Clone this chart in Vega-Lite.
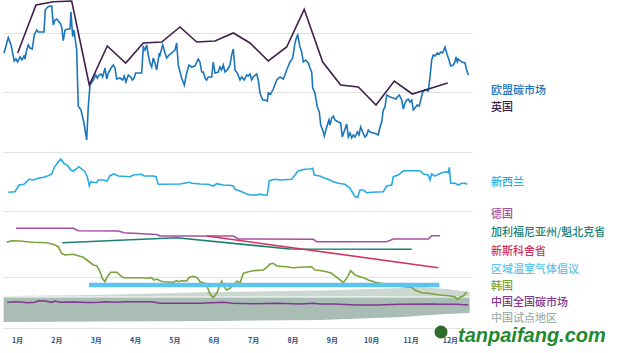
{
"$schema":"https://vega.github.io/schema/vega-lite/v6.json",
"width":469,"height":330,
"autosize":{"type":"none"},
"padding":{"left":3,"top":0,"right":156,"bottom":23},
"background":"white",
"config":{"view":{"stroke":null},"font":"Noto Sans CJK SC"},
"datasets":{
"band":[
{"m":0.66,"lo":8,"mid":33,"hi":34},
{"m":3.0,"lo":8.5,"mid":33,"hi":35},
{"m":6.0,"lo":9,"mid":33,"hi":38},
{"m":8.7,"lo":10,"mid":33,"hi":39.5},
{"m":10.8,"lo":13,"mid":33,"hi":42},
{"m":11.3,"lo":14.5,"mid":33,"hi":43},
{"m":11.9,"lo":16,"mid":33,"hi":41},
{"m":12.5,"lo":17,"mid":33,"hi":38}
],
"labels":[
{"s":"欧盟碳市场","m":13.04,"v":239},
{"s":"英国","m":13.04,"v":222},
{"s":"新西兰","m":13.04,"v":147.5},
{"s":"德国","m":13.04,"v":115.5},
{"s":"加利福尼亚州/魁北克省","m":13.04,"v":97},
{"s":"新斯科舍省","m":13.04,"v":78},
{"s":"区域温室气体倡议","m":13.04,"v":60},
{"s":"韩国","m":13.04,"v":43.5},
{"s":"中国全国碳市场","m":13.04,"v":27},
{"s":"中国试点地区","m":13.04,"v":11}
],
"lines":[
{"s":"欧盟碳市场","m":0.670,"v":277},{"s":"欧盟碳市场","m":0.779,"v":292.3},{"s":"欧盟碳市场","m":0.848,"v":285},{"s":"欧盟碳市场","m":0.931,"v":269},{"s":"欧盟碳市场","m":0.975,"v":271},{"s":"欧盟碳市场","m":1.018,"v":268},{"s":"欧盟碳市场","m":1.076,"v":273},{"s":"欧盟碳市场","m":1.127,"v":270},{"s":"欧盟碳市场","m":1.178,"v":274},{"s":"欧盟碳市场","m":1.203,"v":271},{"s":"欧盟碳市场","m":1.246,"v":280},{"s":"欧盟碳市场","m":1.287,"v":285},{"s":"欧盟碳市场","m":1.330,"v":282},{"s":"欧盟碳市场","m":1.389,"v":281},{"s":"欧盟碳市场","m":1.440,"v":295},{"s":"欧盟碳市场","m":1.501,"v":300},{"s":"欧盟碳市场","m":1.541,"v":298},{"s":"欧盟碳市场","m":1.628,"v":298},{"s":"欧盟碳市场","m":1.686,"v":298},{"s":"欧盟碳市场","m":1.719,"v":320},{"s":"欧盟碳市场","m":1.770,"v":322.7},{"s":"欧盟碳市场","m":1.838,"v":324},{"s":"欧盟碳市场","m":1.882,"v":324},{"s":"欧盟碳市场","m":1.922,"v":305},{"s":"欧盟碳市场","m":1.965,"v":310},{"s":"欧盟碳市场","m":2.009,"v":311},{"s":"欧盟碳市场","m":2.093,"v":307},{"s":"欧盟碳市场","m":2.136,"v":303},{"s":"欧盟碳市场","m":2.176,"v":289.3},{"s":"欧盟碳市场","m":2.220,"v":300},{"s":"欧盟碳市场","m":2.303,"v":301},{"s":"欧盟碳市场","m":2.347,"v":301},{"s":"欧盟碳市场","m":2.372,"v":318.3},{"s":"欧盟碳市场","m":2.415,"v":293.3},{"s":"欧盟碳市场","m":2.448,"v":300},{"s":"欧盟碳市场","m":2.517,"v":280},{"s":"欧盟碳市场","m":2.557,"v":224},{"s":"欧盟碳市场","m":2.626,"v":220},{"s":"欧盟碳市场","m":2.702,"v":207},{"s":"欧盟碳市场","m":2.771,"v":190},{"s":"欧盟碳市场","m":2.811,"v":223},{"s":"欧盟碳市场","m":2.855,"v":245},{"s":"欧盟碳市场","m":2.939,"v":250},{"s":"欧盟碳市场","m":2.999,"v":255},{"s":"欧盟碳市场","m":3.040,"v":252},{"s":"欧盟碳市场","m":3.083,"v":255},{"s":"欧盟碳市场","m":3.134,"v":256},{"s":"欧盟碳市场","m":3.177,"v":253},{"s":"欧盟碳市场","m":3.236,"v":262},{"s":"欧盟碳市场","m":3.279,"v":251},{"s":"欧盟碳市场","m":3.320,"v":257},{"s":"欧盟碳市场","m":3.363,"v":260},{"s":"欧盟碳市场","m":3.406,"v":263},{"s":"欧盟碳市场","m":3.447,"v":265},{"s":"欧盟碳市场","m":3.490,"v":262},{"s":"欧盟碳市场","m":3.533,"v":251},{"s":"欧盟碳市场","m":3.617,"v":252},{"s":"欧盟碳市场","m":3.686,"v":250},{"s":"欧盟碳市场","m":3.726,"v":254},{"s":"欧盟碳市场","m":3.769,"v":248},{"s":"欧盟碳市场","m":3.828,"v":255},{"s":"欧盟碳市场","m":3.889,"v":253},{"s":"欧盟碳市场","m":3.929,"v":250},{"s":"欧盟碳市场","m":3.973,"v":252},{"s":"欧盟碳市场","m":4.016,"v":257},{"s":"欧盟碳市场","m":4.082,"v":257},{"s":"欧盟碳市场","m":4.168,"v":257},{"s":"欧盟碳市场","m":4.209,"v":283},{"s":"欧盟碳市场","m":4.252,"v":280},{"s":"欧盟碳市场","m":4.295,"v":285},{"s":"欧盟碳市场","m":4.336,"v":275},{"s":"欧盟碳市场","m":4.379,"v":267},{"s":"欧盟碳市场","m":4.422,"v":263},{"s":"欧盟碳市场","m":4.463,"v":272},{"s":"欧盟碳市场","m":4.506,"v":267},{"s":"欧盟碳市场","m":4.549,"v":260},{"s":"欧盟碳市场","m":4.615,"v":277},{"s":"欧盟碳市场","m":4.633,"v":275},{"s":"欧盟碳市场","m":4.702,"v":285},{"s":"欧盟碳市场","m":4.760,"v":277},{"s":"欧盟碳市场","m":4.803,"v":272},{"s":"欧盟碳市场","m":4.862,"v":275},{"s":"欧盟碳市场","m":4.930,"v":277},{"s":"欧盟碳市场","m":5.014,"v":280},{"s":"欧盟碳市场","m":5.057,"v":287},{"s":"欧盟碳市场","m":5.098,"v":265},{"s":"欧盟碳市场","m":5.184,"v":252},{"s":"欧盟碳市场","m":5.251,"v":245},{"s":"欧盟碳市场","m":5.312,"v":257},{"s":"欧盟碳市场","m":5.370,"v":265},{"s":"欧盟碳市场","m":5.439,"v":263},{"s":"欧盟碳市场","m":5.522,"v":264},{"s":"欧盟碳市场","m":5.606,"v":271},{"s":"欧盟碳市场","m":5.649,"v":268},{"s":"欧盟碳市场","m":5.693,"v":258},{"s":"欧盟碳市场","m":5.733,"v":258},{"s":"欧盟碳市场","m":5.777,"v":252},{"s":"欧盟碳市场","m":5.820,"v":250},{"s":"欧盟碳市场","m":5.860,"v":253},{"s":"欧盟碳市场","m":5.947,"v":253},{"s":"欧盟碳市场","m":5.987,"v":268},{"s":"欧盟碳市场","m":6.031,"v":257},{"s":"欧盟碳市场","m":6.114,"v":258},{"s":"欧盟碳市场","m":6.158,"v":263},{"s":"欧盟碳市场","m":6.201,"v":260},{"s":"欧盟碳市场","m":6.241,"v":265},{"s":"欧盟碳市场","m":6.285,"v":258},{"s":"欧盟碳市场","m":6.343,"v":260},{"s":"欧盟碳市场","m":6.412,"v":265},{"s":"欧盟碳市场","m":6.455,"v":275},{"s":"欧盟碳市场","m":6.496,"v":281},{"s":"欧盟碳市场","m":6.539,"v":260},{"s":"欧盟碳市场","m":6.597,"v":257},{"s":"欧盟碳市场","m":6.666,"v":250},{"s":"欧盟碳市场","m":6.709,"v":253},{"s":"欧盟碳市场","m":6.775,"v":250},{"s":"欧盟碳市场","m":6.836,"v":255},{"s":"欧盟碳市场","m":6.877,"v":254},{"s":"欧盟碳市场","m":6.920,"v":256},{"s":"欧盟碳市场","m":6.963,"v":250},{"s":"欧盟碳市场","m":7.004,"v":253},{"s":"欧盟碳市场","m":7.090,"v":256},{"s":"欧盟碳市场","m":7.131,"v":250},{"s":"欧盟碳市场","m":7.174,"v":237},{"s":"欧盟碳市场","m":7.242,"v":230},{"s":"欧盟碳市场","m":7.301,"v":230},{"s":"欧盟碳市场","m":7.359,"v":229},{"s":"欧盟碳市场","m":7.385,"v":237},{"s":"欧盟碳市场","m":7.446,"v":236},{"s":"欧盟碳市场","m":7.512,"v":241},{"s":"欧盟碳市场","m":7.598,"v":250},{"s":"欧盟碳市场","m":7.682,"v":253},{"s":"欧盟碳市场","m":7.766,"v":251},{"s":"欧盟碳市场","m":7.809,"v":255},{"s":"欧盟碳市场","m":7.852,"v":260},{"s":"欧盟碳市场","m":7.936,"v":268},{"s":"欧盟碳市场","m":8.005,"v":272},{"s":"欧盟碳市场","m":8.063,"v":287},{"s":"欧盟碳市场","m":8.106,"v":293},{"s":"欧盟碳市场","m":8.132,"v":295},{"s":"欧盟碳市场","m":8.190,"v":283},{"s":"欧盟碳市场","m":8.233,"v":278},{"s":"欧盟碳市场","m":8.274,"v":268},{"s":"欧盟碳市场","m":8.330,"v":270},{"s":"欧盟碳市场","m":8.401,"v":267},{"s":"欧盟碳市场","m":8.444,"v":262},{"s":"欧盟碳市场","m":8.487,"v":258},{"s":"欧盟碳市场","m":8.513,"v":242},{"s":"欧盟碳市场","m":8.571,"v":237},{"s":"欧盟碳市场","m":8.630,"v":223},{"s":"欧盟碳市场","m":8.681,"v":218},{"s":"欧盟碳市场","m":8.716,"v":205},{"s":"欧盟碳市场","m":8.767,"v":200},{"s":"欧盟碳市场","m":8.808,"v":194},{"s":"欧盟碳市场","m":8.869,"v":203},{"s":"欧盟碳市场","m":8.927,"v":210},{"s":"欧盟碳市场","m":8.952,"v":205},{"s":"欧盟碳市场","m":8.995,"v":212},{"s":"欧盟碳市场","m":9.036,"v":214},{"s":"欧盟碳市场","m":9.079,"v":210},{"s":"欧盟碳市场","m":9.163,"v":208},{"s":"欧盟碳市场","m":9.224,"v":207},{"s":"欧盟碳市场","m":9.265,"v":193},{"s":"欧盟碳市场","m":9.308,"v":198},{"s":"欧盟碳市场","m":9.377,"v":206},{"s":"欧盟碳市场","m":9.418,"v":193},{"s":"欧盟碳市场","m":9.461,"v":197},{"s":"欧盟碳市场","m":9.504,"v":192},{"s":"欧盟碳市场","m":9.544,"v":195},{"s":"欧盟碳市场","m":9.588,"v":193},{"s":"欧盟碳市场","m":9.646,"v":198},{"s":"欧盟碳市场","m":9.689,"v":195},{"s":"欧盟碳市场","m":9.732,"v":203},{"s":"欧盟碳市场","m":9.783,"v":198},{"s":"欧盟碳市场","m":9.842,"v":193},{"s":"欧盟碳市场","m":9.885,"v":195},{"s":"欧盟碳市场","m":9.925,"v":200},{"s":"欧盟碳市场","m":9.969,"v":198},{"s":"欧盟碳市场","m":10.053,"v":197},{"s":"欧盟碳市场","m":10.139,"v":196},{"s":"欧盟碳市场","m":10.179,"v":195},{"s":"欧盟碳市场","m":10.223,"v":203},{"s":"欧盟碳市场","m":10.266,"v":208},{"s":"欧盟碳市场","m":10.306,"v":220},{"s":"欧盟碳市场","m":10.350,"v":223},{"s":"欧盟碳市场","m":10.393,"v":235},{"s":"欧盟碳市场","m":10.477,"v":233},{"s":"欧盟碳市场","m":10.561,"v":232},{"s":"欧盟碳市场","m":10.630,"v":231},{"s":"欧盟碳市场","m":10.663,"v":233},{"s":"欧盟碳市场","m":10.713,"v":235},{"s":"欧盟碳市场","m":10.774,"v":230},{"s":"欧盟碳市场","m":10.815,"v":221},{"s":"欧盟碳市场","m":10.858,"v":227},{"s":"欧盟碳市场","m":10.901,"v":230},{"s":"欧盟碳市场","m":10.942,"v":231},{"s":"欧盟碳市场","m":10.985,"v":228},{"s":"欧盟碳市场","m":11.028,"v":230},{"s":"欧盟碳市场","m":11.069,"v":220},{"s":"欧盟碳市场","m":11.112,"v":222},{"s":"欧盟碳市场","m":11.170,"v":225},{"s":"欧盟碳市场","m":11.221,"v":224},{"s":"欧盟碳市场","m":11.257,"v":230},{"s":"欧盟碳市场","m":11.308,"v":238},{"s":"欧盟碳市场","m":11.366,"v":240},{"s":"欧盟碳市场","m":11.450,"v":239},{"s":"欧盟碳市场","m":11.493,"v":253},{"s":"欧盟碳市场","m":11.536,"v":270},{"s":"欧盟碳市场","m":11.577,"v":275},{"s":"欧盟碳市场","m":11.620,"v":274},{"s":"欧盟碳市场","m":11.679,"v":277},{"s":"欧盟碳市场","m":11.730,"v":276},{"s":"欧盟碳市场","m":11.765,"v":278},{"s":"欧盟碳市场","m":11.816,"v":277},{"s":"欧盟碳市场","m":11.874,"v":283},{"s":"欧盟碳市场","m":11.917,"v":277},{"s":"欧盟碳市场","m":11.976,"v":270},{"s":"欧盟碳市场","m":12.019,"v":264},{"s":"欧盟碳市场","m":12.085,"v":265},{"s":"欧盟碳市场","m":12.128,"v":268},{"s":"欧盟碳市场","m":12.154,"v":273},{"s":"欧盟碳市场","m":12.187,"v":268},{"s":"欧盟碳市场","m":12.212,"v":271},{"s":"欧盟碳市场","m":12.298,"v":268},{"s":"欧盟碳市场","m":12.382,"v":267},{"s":"欧盟碳市场","m":12.425,"v":260},{"s":"欧盟碳市场","m":12.466,"v":255},
{"s":"英国","m":1.018,"v":277},{"s":"英国","m":1.483,"v":325},{"s":"英国","m":1.922,"v":328.3},{"s":"英国","m":2.390,"v":329},{"s":"英国","m":2.837,"v":245},{"s":"英国","m":3.294,"v":284},{"s":"英国","m":3.762,"v":267},{"s":"英国","m":4.209,"v":287},{"s":"英国","m":4.676,"v":288},{"s":"英国","m":5.141,"v":303},{"s":"英国","m":5.566,"v":288},{"s":"英国","m":6.031,"v":289},{"s":"英国","m":6.496,"v":297},{"s":"英国","m":6.920,"v":287},{"s":"英国","m":7.385,"v":269},{"s":"英国","m":7.852,"v":283},{"s":"英国","m":8.297,"v":320.7},{"s":"英国","m":8.767,"v":268},{"s":"英国","m":9.224,"v":245},{"s":"英国","m":9.671,"v":243},{"s":"英国","m":10.121,"v":225},{"s":"英国","m":10.586,"v":249},{"s":"英国","m":11.043,"v":236},{"s":"英国","m":11.450,"v":241},{"s":"英国","m":11.943,"v":247},
{"s":"新西兰","m":0.779,"v":137.7},{"s":"新西兰","m":0.949,"v":138.3},{"s":"新西兰","m":1.051,"v":145},{"s":"新西兰","m":1.178,"v":145.7},{"s":"新西兰","m":1.305,"v":150.7},{"s":"新西兰","m":1.414,"v":150},{"s":"新西兰","m":1.501,"v":151.3},{"s":"新西兰","m":1.668,"v":152.7},{"s":"新西兰","m":1.795,"v":154.3},{"s":"新西兰","m":1.882,"v":156},{"s":"新西兰","m":1.948,"v":162.7},{"s":"新西兰","m":2.024,"v":166.7},{"s":"新西兰","m":2.110,"v":171},{"s":"新西兰","m":2.194,"v":166.7},{"s":"新西兰","m":2.288,"v":164.3},{"s":"新西兰","m":2.364,"v":160},{"s":"新西兰","m":2.430,"v":159},{"s":"新西兰","m":2.499,"v":160.7},{"s":"新西兰","m":2.575,"v":163.3},{"s":"新西兰","m":2.644,"v":161},{"s":"新西兰","m":2.728,"v":158.3},{"s":"新西兰","m":2.786,"v":153.3},{"s":"新西兰","m":2.837,"v":144.3},{"s":"新西兰","m":2.872,"v":148.3},{"s":"新西兰","m":2.939,"v":147.7},{"s":"新西兰","m":3.025,"v":147.3},{"s":"新西兰","m":3.066,"v":150},{"s":"新西兰","m":3.193,"v":150},{"s":"新西兰","m":3.294,"v":149},{"s":"新西兰","m":3.363,"v":154.3},{"s":"新西兰","m":3.464,"v":156},{"s":"新西兰","m":3.574,"v":154},{"s":"新西兰","m":3.871,"v":153.3},{"s":"新西兰","m":3.955,"v":155},{"s":"新西兰","m":4.168,"v":155.7},{"s":"新西兰","m":4.227,"v":154},{"s":"新西兰","m":4.463,"v":154},{"s":"新西兰","m":4.532,"v":153.3},{"s":"新西兰","m":4.590,"v":145.7},{"s":"新西兰","m":5.141,"v":146},{"s":"新西兰","m":5.312,"v":147.3},{"s":"新西兰","m":5.378,"v":147.7},{"s":"新西兰","m":5.439,"v":146.7},{"s":"新西兰","m":5.649,"v":146},{"s":"新西兰","m":5.860,"v":145.7},{"s":"新西兰","m":5.987,"v":144},{"s":"新西兰","m":6.074,"v":146.3},{"s":"新西兰","m":6.241,"v":145},{"s":"新西兰","m":6.412,"v":144.7},{"s":"新西兰","m":6.496,"v":144},{"s":"新西兰","m":6.539,"v":140.7},{"s":"新西兰","m":6.666,"v":139},{"s":"新西兰","m":6.793,"v":136.7},{"s":"新西兰","m":6.920,"v":135},{"s":"新西兰","m":7.090,"v":135},{"s":"新西兰","m":7.174,"v":136},{"s":"新西兰","m":7.258,"v":135},{"s":"新西兰","m":7.359,"v":135},{"s":"新西兰","m":7.410,"v":149.3},{"s":"新西兰","m":7.555,"v":150.7},{"s":"新西兰","m":7.682,"v":150},{"s":"新西兰","m":7.979,"v":150.7},{"s":"新西兰","m":8.063,"v":155},{"s":"新西兰","m":8.147,"v":159.3},{"s":"新西兰","m":8.317,"v":160.7},{"s":"新西兰","m":8.444,"v":161},{"s":"新西兰","m":8.513,"v":161.7},{"s":"新西兰","m":8.553,"v":155},{"s":"新西兰","m":8.698,"v":154},{"s":"新西兰","m":8.782,"v":152.3},{"s":"新西兰","m":8.909,"v":150.7},{"s":"新西兰","m":9.036,"v":148.3},{"s":"新西兰","m":9.163,"v":146.7},{"s":"新西兰","m":9.333,"v":145.7},{"s":"新西兰","m":9.461,"v":141.7},{"s":"新西兰","m":9.588,"v":133.3},{"s":"新西兰","m":9.656,"v":132.7},{"s":"新西兰","m":9.715,"v":140},{"s":"新西兰","m":9.798,"v":140},{"s":"新西兰","m":9.885,"v":137.3},{"s":"新西兰","m":10.012,"v":137.7},{"s":"新西兰","m":10.306,"v":138.3},{"s":"新西兰","m":10.393,"v":144},{"s":"新西兰","m":10.520,"v":145},{"s":"新西兰","m":10.561,"v":153.3},{"s":"新西兰","m":10.688,"v":155},{"s":"新西兰","m":10.815,"v":159.3},{"s":"新西兰","m":10.985,"v":159.3},{"s":"新西兰","m":11.239,"v":159.3},{"s":"新西兰","m":11.323,"v":156},{"s":"新西兰","m":11.450,"v":155},{"s":"新西兰","m":11.493,"v":150},{"s":"新西兰","m":11.536,"v":156},{"s":"新西兰","m":11.620,"v":154},{"s":"新西兰","m":11.790,"v":157.3},{"s":"新西兰","m":11.917,"v":158.3},{"s":"新西兰","m":11.958,"v":157.3},{"s":"新西兰","m":11.983,"v":162.7},{"s":"新西兰","m":12.019,"v":146.7},{"s":"新西兰","m":12.128,"v":146.7},{"s":"新西兰","m":12.212,"v":145},{"s":"新西兰","m":12.298,"v":146.7},{"s":"新西兰","m":12.382,"v":146.7},{"s":"新西兰","m":12.441,"v":145.7},
{"s":"德国","m":0.975,"v":101.7},{"s":"德国","m":2.430,"v":101.7},{"s":"德国","m":2.557,"v":99.3},{"s":"德国","m":3.574,"v":99},{"s":"德国","m":3.719,"v":97.3},{"s":"德国","m":4.549,"v":95.5},{"s":"德国","m":4.633,"v":94},{"s":"德国","m":6.496,"v":94},{"s":"德国","m":6.623,"v":91},{"s":"德国","m":8.528,"v":90.7},{"s":"德国","m":8.615,"v":88.3},{"s":"德国","m":10.393,"v":88.3},{"s":"德国","m":10.561,"v":91},{"s":"德国","m":11.450,"v":91},{"s":"德国","m":11.536,"v":94.3},{"s":"德国","m":11.747,"v":94.3},
{"s":"加利福尼亚州/魁北克省","m":2.151,"v":87.3},{"s":"加利福尼亚州/魁北克省","m":5.057,"v":92.3},{"s":"加利福尼亚州/魁北克省","m":7.936,"v":81},{"s":"加利福尼亚州/魁北克省","m":11.028,"v":80.7},
{"s":"新斯科舍省","m":5.820,"v":94},{"s":"新斯科舍省","m":11.704,"v":62.3},
{"s":"区域温室气体倡议","m":2.829,"v":45},{"s":"区域温室气体倡议","m":11.730,"v":45},
{"s":"韩国","m":0.738,"v":87.7},{"s":"韩国","m":0.865,"v":89.3},{"s":"韩国","m":1.076,"v":89},{"s":"韩国","m":1.246,"v":88.3},{"s":"韩国","m":1.414,"v":87.7},{"s":"韩国","m":1.755,"v":87.3},{"s":"韩国","m":1.882,"v":86},{"s":"韩国","m":1.965,"v":85},{"s":"韩国","m":2.049,"v":83.3},{"s":"韩国","m":2.136,"v":76.7},{"s":"韩国","m":2.220,"v":75},{"s":"韩国","m":2.430,"v":75.7},{"s":"韩国","m":2.557,"v":74.3},{"s":"韩国","m":2.684,"v":72.7},{"s":"韩国","m":2.811,"v":69},{"s":"韩国","m":2.939,"v":65},{"s":"韩国","m":3.025,"v":64.3},{"s":"韩国","m":3.109,"v":58.3},{"s":"韩国","m":3.167,"v":51.7},{"s":"韩国","m":3.236,"v":48.3},{"s":"韩国","m":3.294,"v":53.3},{"s":"韩国","m":3.381,"v":57.7},{"s":"韩国","m":3.533,"v":57.7},{"s":"韩国","m":3.617,"v":55},{"s":"韩国","m":3.701,"v":52.3},{"s":"韩国","m":4.209,"v":52.3},{"s":"韩国","m":4.295,"v":51.7},{"s":"韩国","m":4.422,"v":52.3},{"s":"韩国","m":4.481,"v":50},{"s":"韩国","m":4.549,"v":51},{"s":"韩国","m":4.633,"v":49.3},{"s":"韩国","m":4.717,"v":48.3},{"s":"韩国","m":4.971,"v":47.7},{"s":"韩国","m":5.057,"v":49.3},{"s":"韩国","m":5.098,"v":48.3},{"s":"韩国","m":5.184,"v":49.3},{"s":"韩国","m":5.312,"v":49},{"s":"韩国","m":5.378,"v":52.7},{"s":"韩国","m":5.479,"v":53.7},{"s":"韩国","m":5.581,"v":52.3},{"s":"韩国","m":5.649,"v":48.3},{"s":"韩国","m":5.777,"v":46.7},{"s":"韩国","m":5.835,"v":43.3},{"s":"韩国","m":5.904,"v":36},{"s":"韩国","m":5.987,"v":32.3},{"s":"韩国","m":6.074,"v":36.7},{"s":"韩国","m":6.140,"v":43.3},{"s":"韩国","m":6.201,"v":49},{"s":"韩国","m":6.259,"v":43.3},{"s":"韩国","m":6.328,"v":40},{"s":"韩国","m":6.412,"v":41.7},{"s":"韩国","m":6.496,"v":45},{"s":"韩国","m":6.597,"v":49},{"s":"韩国","m":6.666,"v":46.7},{"s":"韩国","m":6.750,"v":56.7},{"s":"韩国","m":6.877,"v":58.3},{"s":"韩国","m":7.004,"v":59.3},{"s":"韩国","m":7.258,"v":60},{"s":"韩国","m":7.344,"v":62.7},{"s":"韩国","m":7.428,"v":66},{"s":"韩国","m":7.512,"v":66.7},{"s":"韩国","m":7.598,"v":64},{"s":"韩国","m":7.852,"v":63.3},{"s":"韩国","m":8.020,"v":62.3},{"s":"韩国","m":8.190,"v":62.7},{"s":"韩国","m":8.487,"v":63.3},{"s":"韩国","m":8.571,"v":60},{"s":"韩国","m":8.698,"v":59.5},{"s":"韩国","m":8.869,"v":58.3},{"s":"韩国","m":8.995,"v":56.7},{"s":"韩国","m":9.079,"v":54},{"s":"韩国","m":9.163,"v":51.7},{"s":"韩国","m":9.290,"v":47.3},{"s":"韩国","m":9.377,"v":51.7},{"s":"韩国","m":9.478,"v":59.3},{"s":"韩国","m":9.588,"v":55},{"s":"韩国","m":9.715,"v":53.3},{"s":"韩国","m":9.842,"v":51.7},{"s":"韩国","m":9.925,"v":50},{"s":"韩国","m":10.103,"v":47.7},{"s":"韩国","m":10.179,"v":47.3},{"s":"韩国","m":10.477,"v":45},{"s":"韩国","m":10.815,"v":43.3},{"s":"韩国","m":11.028,"v":42.7},{"s":"韩国","m":11.112,"v":40},{"s":"韩国","m":11.282,"v":37.3},{"s":"韩国","m":11.450,"v":36.7},{"s":"韩国","m":11.577,"v":36},{"s":"韩国","m":11.747,"v":35},{"s":"韩国","m":11.958,"v":34.3},{"s":"韩国","m":12.128,"v":33.3},{"s":"韩国","m":12.187,"v":30.7},{"s":"韩国","m":12.255,"v":32.7},{"s":"韩国","m":12.339,"v":34},{"s":"韩国","m":12.425,"v":38.3},
{"s":"中国全国碳市场","m":0.754,"v":27.7},{"s":"中国全国碳市场","m":0.949,"v":28.3},{"s":"中国全国碳市场","m":1.160,"v":27.7},{"s":"中国全国碳市场","m":1.246,"v":27.3},{"s":"中国全国碳市场","m":1.457,"v":27.7},{"s":"中国全国碳市场","m":1.541,"v":29.3},{"s":"中国全国碳市场","m":1.711,"v":29},{"s":"中国全国碳市场","m":1.882,"v":27.7},{"s":"中国全国碳市场","m":1.965,"v":29},{"s":"中国全国碳市场","m":2.093,"v":27.7},{"s":"中国全国碳市场","m":2.430,"v":28},{"s":"中国全国碳市场","m":2.800,"v":27.5},{"s":"中国全国碳市场","m":3.109,"v":27.7},{"s":"中国全国碳市场","m":3.236,"v":28.3},{"s":"中国全国碳市场","m":3.500,"v":27.8},{"s":"中国全国碳市场","m":3.787,"v":28.3},{"s":"中国全国碳市场","m":4.422,"v":28.3},{"s":"中国全国碳市场","m":4.633,"v":26.7},{"s":"中国全国碳市场","m":5.649,"v":26.7},{"s":"中国全国碳市场","m":6.241,"v":27.7},{"s":"中国全国碳市场","m":6.496,"v":26.7},{"s":"中国全国碳市场","m":7.000,"v":26.2},{"s":"中国全国碳市场","m":7.600,"v":26.8},{"s":"中国全国碳市场","m":8.190,"v":26},{"s":"中国全国碳市场","m":8.528,"v":26.7},{"s":"中国全国碳市场","m":8.698,"v":26},{"s":"中国全国碳市场","m":9.036,"v":26},{"s":"中国全国碳市场","m":9.630,"v":25},{"s":"中国全国碳市场","m":10.139,"v":25},{"s":"中国全国碳市场","m":10.731,"v":25.7},{"s":"中国全国碳市场","m":11.577,"v":26},{"s":"中国全国碳市场","m":11.747,"v":25.7},{"s":"中国全国碳市场","m":12.171,"v":25.7},{"s":"中国全国碳市场","m":12.466,"v":25}
]
},
"layer":[
{"data":{"name":"band"},"mark":{"type":"area","color":"#cbd8d2","opacity":1},
 "encoding":{
  "x":{"field":"m","type":"quantitative","scale":{"domain":[0.645,12.56],"nice":false,"zero":false},
   "axis":{"values":[1,2,3,4,5,6,7,8,9,10,11,12],"labelExpr":"datum.value + '月'","domain":false,"ticks":false,"grid":false,"labelFontSize":7,"labelFontWeight":"bold","labelColor":"#2b4b7b","labelPadding":6,"labelFlush":false,"labelOverlap":false,"title":null,"labelFont":"Noto Sans CJK SC"}},
  "y":{"field":"hi","type":"quantitative","scale":{"domain":[0,330],"nice":false,"zero":false},
   "axis":{"values":[2,53,119,178,238,297],"labels":false,"ticks":false,"domain":false,"grid":true,"gridColor":"#e2e2e2","gridWidth":1,"title":null}},
  "y2":{"field":"mid"}}},
{"data":{"name":"band"},"mark":{"type":"area","color":"#a9bdb5","opacity":1},
 "encoding":{"x":{"field":"m","type":"quantitative"},"y":{"field":"mid","type":"quantitative"},"y2":{"field":"lo"}}},
{"data":{"name":"band"},"mark":{"type":"line","color":"#ffffff","strokeWidth":1},
 "encoding":{"x":{"field":"m","type":"quantitative"},"y":{"field":"mid","type":"quantitative"}}},
{"data":{"name":"lines"},"transform":[{"filter":"datum.s !== '区域温室气体倡议'"}],
 "mark":{"type":"line","strokeWidth":1.6},
 "encoding":{"x":{"field":"m","type":"quantitative"},"y":{"field":"v","type":"quantitative"},
  "color":{"field":"s","type":"nominal","legend":null,
   "scale":{"domain":["中国试点地区","中国全国碳市场","韩国","区域温室气体倡议","新斯科舍省","加利福尼亚州/魁北克省","德国","新西兰","欧盟碳市场","英国"],
            "range":["#9db3aa","#7f3a8f","#7da23a","#5bc4ef","#d0325e","#1a7f72","#a5509f","#29abe2","#1b75bb","#3f1d4d"]}}}},
{"data":{"name":"lines"},"transform":[{"filter":"datum.s === '区域温室气体倡议'"}],
 "mark":{"type":"line","strokeWidth":4.5,"strokeCap":"butt"},
 "encoding":{"x":{"field":"m","type":"quantitative"},"y":{"field":"v","type":"quantitative"},"color":{"field":"s","type":"nominal","legend":null}}},
{"data":{"name":"labels"},"mark":{"type":"text","align":"left","baseline":"middle","fontSize":11,"font":"Noto Sans CJK SC","fontWeight":500},
 "encoding":{"x":{"field":"m","type":"quantitative"},"y":{"field":"v","type":"quantitative"},"text":{"field":"s"},"color":{"field":"s","type":"nominal","legend":null}}},
{"data":{"values":[{"m":11.772,"v":-2}]},"mark":{"type":"point","filled":true,"shape":"circle","size":170,"color":"#2d6e2d","opacity":1},
 "encoding":{"x":{"field":"m","type":"quantitative"},"y":{"field":"v","type":"quantitative"}}},
{"data":{"values":[{"m":12.204,"v":-6,"t":"tanpaifang.com"}]},"mark":{"type":"text","align":"left","baseline":"middle","fontSize":20,"font":"Liberation Sans","fontWeight":"bold","fontStyle":"italic","color":"#1f8a2e"},
 "encoding":{"x":{"field":"m","type":"quantitative"},"y":{"field":"v","type":"quantitative"},"text":{"field":"t"}}}
]
}
